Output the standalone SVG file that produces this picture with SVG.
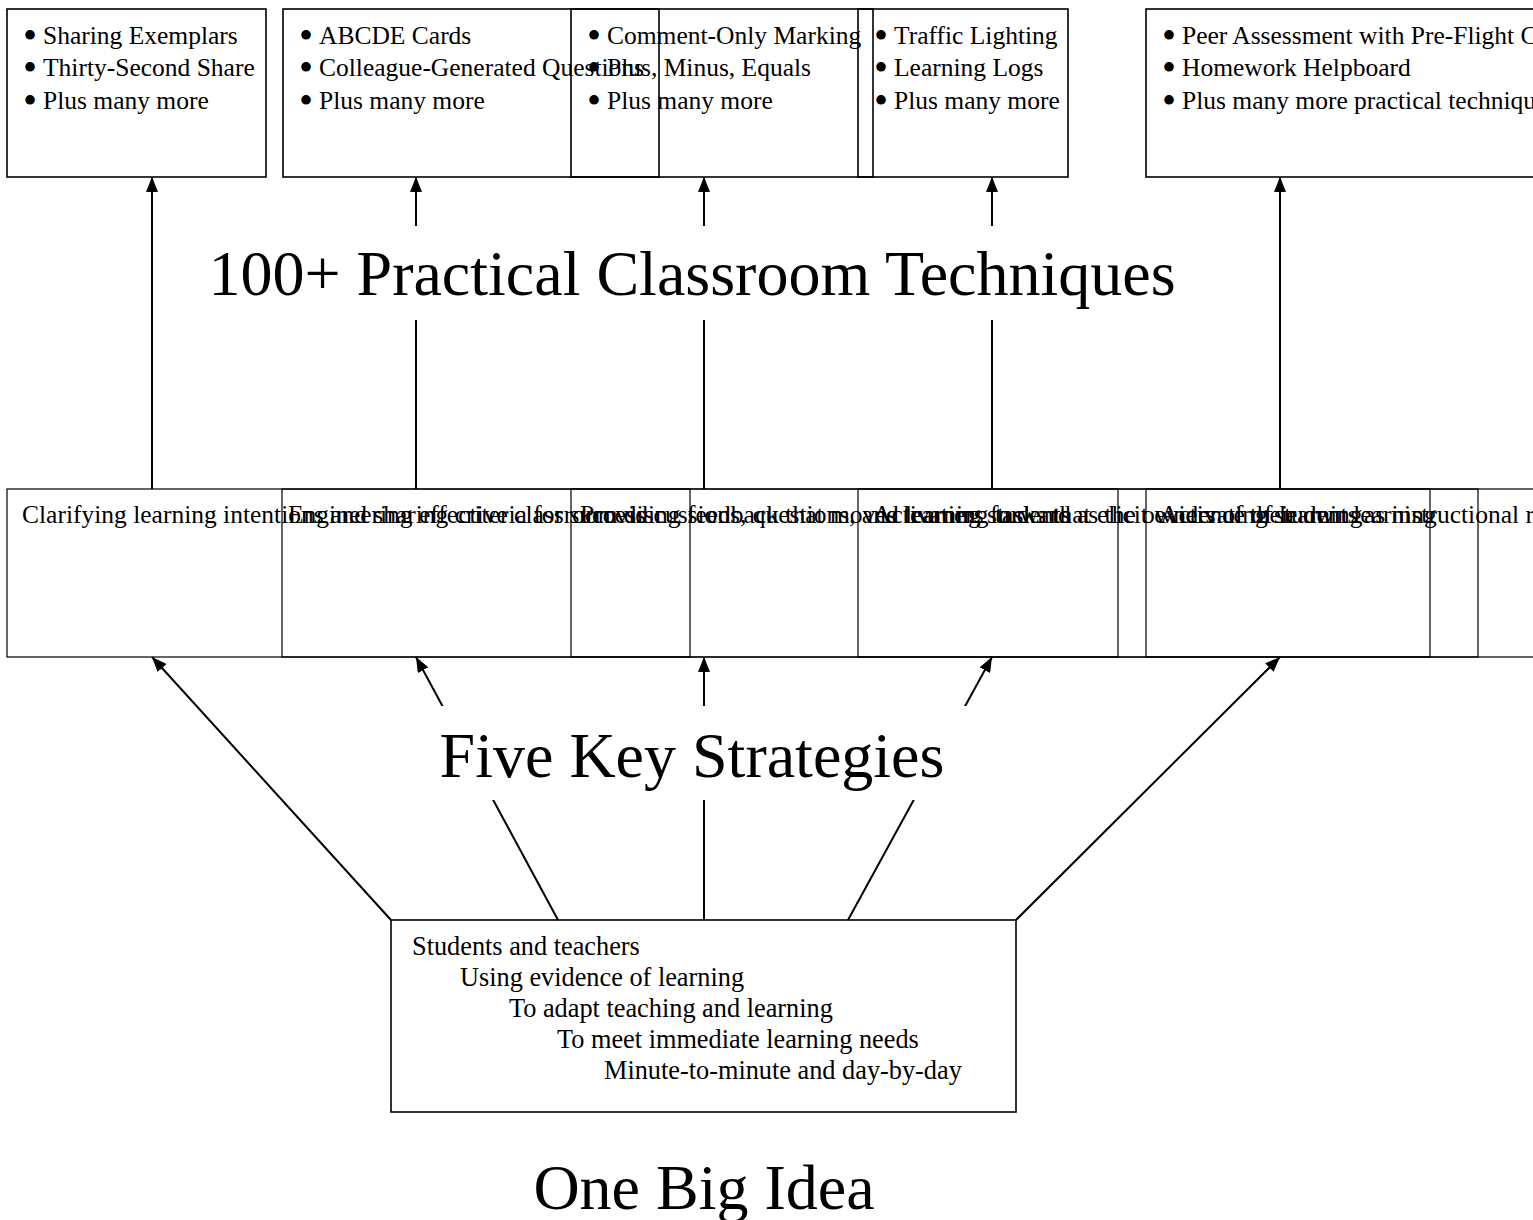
<svg xmlns="http://www.w3.org/2000/svg" width="1533" height="1220" viewBox="0 0 1533 1220">
  <defs>
    <marker id="arrow" markerUnits="userSpaceOnUse" markerWidth="16" markerHeight="12" refX="15" refY="6" orient="auto">
      <path d="M0,0 L15,6 L0,12 z" fill="#000"/>
    </marker>
    <style>
      text { font-family: "Liberation Serif", "Times New Roman", serif; fill: #000; }
      .small { font-size: 25.5px; }
      .dot { font-size: 40px; }
      .body { font-size: 26.3px; }
      .title { font-size: 64px; text-anchor: middle; }
      .tech { fill: none; stroke: #000; stroke-width: 1.6; }
      .strat { fill: none; stroke: #000; stroke-width: 1.2; }
      .idea { fill: none; stroke: #000; stroke-width: 1.6; }
      .link { stroke: #000; stroke-width: 2; fill: none; marker-end: url(#arrow); }
      .mask { fill: #fff; stroke: none; }
    </style>
  </defs>

  <rect x="0" y="0" width="1533" height="1220" fill="#fff"/>

  <!-- connectors -->
  <g id="connectors">
    <line class="link" x1="152" y1="489" x2="152" y2="177"/>
    <line class="link" x1="416" y1="489" x2="416" y2="177"/>
    <line class="link" x1="704" y1="489" x2="704" y2="177"/>
    <line class="link" x1="992" y1="489" x2="992" y2="177"/>
    <line class="link" x1="1280" y1="489" x2="1280" y2="177"/>

    <line class="link" x1="391" y1="920" x2="152" y2="657"/>
    <line class="link" x1="558" y1="920" x2="416" y2="657"/>
    <line class="link" x1="704" y1="920" x2="704" y2="657"/>
    <line class="link" x1="848" y1="920" x2="992" y2="657"/>
    <line class="link" x1="1016" y1="920" x2="1280" y2="657"/>
  </g>

  <!-- layer titles -->
  <g id="title-techniques">
    <rect class="mask" x="200" y="226" width="985" height="94"/>
    <text class="title" x="692" y="295">100+ Practical Classroom Techniques</text>
  </g>
  <g id="title-strategies">
    <rect class="mask" x="430" y="706" width="545" height="94"/>
    <text class="title" x="692" y="777">Five Key Strategies</text>
  </g>
  <g id="title-idea">
    <text class="title" x="704" y="1209">One Big Idea</text>
  </g>

  <!-- technique boxes -->
  <g id="tech-1">
    <rect class="tech" x="7" y="9" width="259" height="168"/>
    <text class="dot" x="23" y="49">•</text>
    <text class="dot" x="23" y="81">•</text>
    <text class="dot" x="23" y="114">•</text>
    <text class="small" x="43" y="44">Sharing Exemplars</text>
    <text class="small" x="43" y="76">Thirty-Second Share</text>
    <text class="small" x="43" y="109">Plus many more</text>
  </g>
  <g id="tech-2">
    <rect class="tech" x="283" y="9" width="376" height="168"/>
    <text class="dot" x="299" y="49">•</text>
    <text class="dot" x="299" y="81">•</text>
    <text class="dot" x="299" y="114">•</text>
    <text class="small" x="319" y="44">ABCDE Cards</text>
    <text class="small" x="319" y="76">Colleague-Generated Questions</text>
    <text class="small" x="319" y="109">Plus many more</text>
  </g>
  <g id="tech-3">
    <rect class="tech" x="571" y="9" width="302" height="168"/>
    <text class="dot" x="587" y="49">•</text>
    <text class="dot" x="587" y="81">•</text>
    <text class="dot" x="587" y="114">•</text>
    <text class="small" x="607" y="44">Comment-Only Marking</text>
    <text class="small" x="607" y="76">Plus, Minus, Equals</text>
    <text class="small" x="607" y="109">Plus many more</text>
  </g>
  <g id="tech-4">
    <rect class="tech" x="858" y="9" width="210" height="168"/>
    <text class="dot" x="874" y="49">•</text>
    <text class="dot" x="874" y="81">•</text>
    <text class="dot" x="874" y="114">•</text>
    <text class="small" x="894" y="44">Traffic Lighting</text>
    <text class="small" x="894" y="76">Learning Logs</text>
    <text class="small" x="894" y="109">Plus many more</text>
  </g>
  <g id="tech-5">
    <rect class="tech" x="1146" y="9" width="560" height="168"/>
    <text class="dot" x="1162" y="49">•</text>
    <text class="dot" x="1162" y="81">•</text>
    <text class="dot" x="1162" y="114">•</text>
    <text class="small" x="1182" y="44">Peer Assessment with Pre-Flight Checklist</text>
    <text class="small" x="1182" y="76">Homework Helpboard</text>
    <text class="small" x="1182" y="109">Plus many more practical techniques</text>
  </g>

  <!-- strategy boxes -->
  <g id="strategy-1">
    <rect class="strat" x="7" y="489" width="683" height="168"/>
    <text class="small" x="22" y="523">Clarifying learning intentions and sharing criteria for success</text>
  </g>
  <g id="strategy-2">
    <rect class="strat" x="282" y="489" width="1148" height="168"/>
    <text class="small" x="288" y="523">Engineering effective classroom discussions, questions, and learning tasks that elicit evidence of learning</text>
  </g>
  <g id="strategy-3">
    <rect class="strat" x="571" y="489" width="547" height="168"/>
    <text class="small" x="580" y="523">Providing feedback that moves learners forward</text>
  </g>
  <g id="strategy-4">
    <rect class="strat" x="858" y="489" width="620" height="168"/>
    <text class="small" x="873" y="523">Activating students as the owners of their own learning</text>
  </g>
  <g id="strategy-5">
    <rect class="strat" x="1146" y="489" width="800" height="168"/>
    <text class="small" x="1160" y="523">Activating students as instructional resources for one another</text>
  </g>

  <!-- big idea box -->
  <g id="big-idea">
    <rect class="idea" x="391" y="920" width="625" height="192"/>
    <text class="body" x="412" y="955">Students and teachers</text>
    <text class="body" x="460" y="986">Using evidence of learning</text>
    <text class="body" x="509" y="1017">To adapt teaching and learning</text>
    <text class="body" x="557" y="1048">To meet immediate learning needs</text>
    <text class="body" x="604" y="1079">Minute-to-minute and day-by-day</text>
  </g>
</svg>
